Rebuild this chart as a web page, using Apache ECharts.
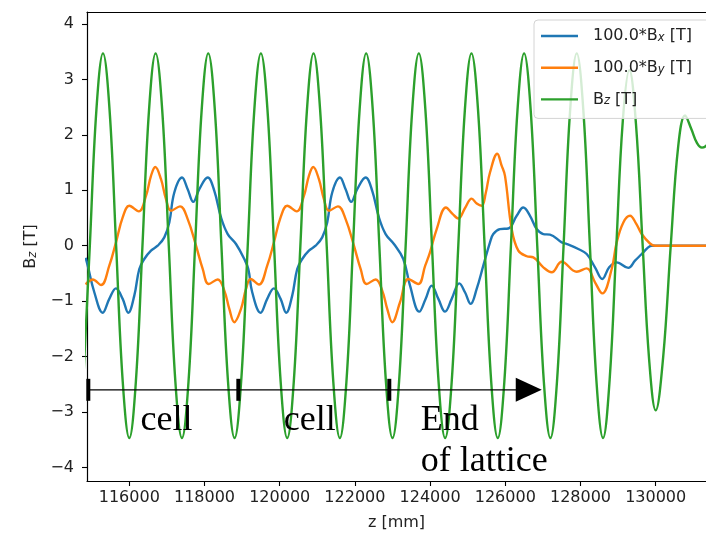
<!DOCTYPE html>
<html>
<head>
<meta charset="utf-8">
<script src="https://cdn.jsdelivr.net/npm/echarts@6/dist/echarts.min.js"></script>
<style>html,body{margin:0;padding:0;background:#fff}#c{width:706px;height:536px}</style>
</head>
<body>
<div id="c"></div>
<script>
// ---- data ----
const xTicks = [116000, 118000, 120000, 122000, 124000, 126000, 128000, 130000];
const yTicks = [-4, -3, -2, -1, 0, 1, 2, 3, 4];

const bxPoints = [[114840,-0.22],[114894,-0.36],[115069,-0.84],[115293,-1.21],[115468,-0.96],[115646,-0.77],[115824,-0.96],[115973,-1.21],[116133,-0.90],[116266,-0.42],[116399,-0.24],[116577,-0.09],[116755,0.00],[116931,0.15],[117064,0.42],[117197,0.96],[117402,1.23],[117553,1.02],[117702,0.79],[117862,1.02],[118085,1.23],[118261,0.99],[118439,0.51],[118617,0.21],[118838,0.03],[119058,-0.24],[119165,-0.42],[119269,-0.84],[119493,-1.21],[119668,-0.96],[119846,-0.77],[120024,-0.96],[120173,-1.21],[120333,-0.90],[120466,-0.42],[120599,-0.24],[120777,-0.09],[120955,0.00],[121131,0.15],[121264,0.42],[121397,0.96],[121602,1.23],[121753,1.02],[121902,0.79],[122062,1.02],[122285,1.23],[122461,0.99],[122639,0.51],[122817,0.21],[123038,0.03],[123287,-0.24],[123466,-0.72],[123713,-1.19],[123880,-0.96],[124042,-0.72],[124220,-0.96],[124397,-1.19],[124575,-0.96],[124777,-0.68],[124928,-0.84],[125080,-1.05],[125239,-0.78],[125415,-0.36],[125593,0.06],[125681,0.21],[125857,0.30],[126079,0.31],[126303,0.54],[126479,0.69],[126657,0.54],[126835,0.30],[127011,0.21],[127189,0.20],[127500,0.06],[127640,0.03],[127941,-0.06],[128165,-0.15],[128386,-0.39],[128580,-0.60],[128763,-0.39],[128963,-0.30],[129271,-0.40],[129450,-0.27],[129628,-0.15],[129800,-0.03],[129893,0.00],[130200,0.00],[131500,0.00]];

const byPoints = [[114840,-0.70],[114894,-0.66],[115027,-0.61],[115247,-0.71],[115468,-0.36],[115646,0.06],[115824,0.51],[116000,0.72],[116250,0.62],[116444,0.90],[116577,1.26],[116691,1.42],[116843,1.20],[116976,0.84],[117109,0.63],[117348,0.71],[117553,0.48],[117774,0.00],[117952,-0.42],[118112,-0.69],[118351,-0.61],[118527,-0.81],[118660,-1.14],[118793,-1.38],[118971,-1.14],[119104,-0.78],[119227,-0.60],[119447,-0.70],[119668,-0.36],[119846,0.06],[120024,0.51],[120200,0.72],[120450,0.62],[120644,0.90],[120777,1.26],[120892,1.42],[121043,1.20],[121176,0.84],[121309,0.63],[121548,0.71],[121753,0.48],[121974,0.00],[122152,-0.42],[122312,-0.69],[122551,-0.61],[122727,-0.81],[122860,-1.14],[122993,-1.38],[123200,-1.02],[123420,-0.60],[123686,-0.69],[123870,-0.36],[123997,-0.12],[124176,0.30],[124423,0.69],[124590,0.58],[124750,0.49],[124930,0.68],[125106,0.85],[125240,0.76],[125372,0.72],[125480,0.95],[125593,1.32],[125787,1.66],[125900,1.45],[125992,1.26],[126170,0.30],[126346,-0.09],[126569,-0.19],[126745,-0.21],[127011,-0.39],[127234,-0.48],[127500,-0.29],[127899,-0.47],[128165,-0.41],[128386,-0.66],[128580,-0.86],[128830,-0.42],[128963,0.06],[129140,0.42],[129317,0.54],[129480,0.40],[129628,0.21],[129849,0.04],[129982,0.00],[131500,0.00]];

const bzPoints = [[114775,-2.45],[114950,0],[115125,2.45],[115300,3.47],[115475,2.45],[115650,0],[115825,-2.45],[116000,-3.47],[116175,-2.45],[116350,0],[116525,2.45],[116700,3.47],[116875,2.45],[117050,0],[117225,-2.45],[117400,-3.47],[117575,-2.45],[117750,0],[117925,2.45],[118100,3.47],[118275,2.45],[118450,0],[118625,-2.45],[118800,-3.47],[118975,-2.45],[119150,0],[119325,2.45],[119500,3.47],[119675,2.45],[119850,0],[120025,-2.45],[120200,-3.47],[120375,-2.45],[120550,0],[120725,2.45],[120900,3.47],[121075,2.45],[121250,0],[121425,-2.45],[121600,-3.47],[121775,-2.45],[121950,0],[122125,2.45],[122300,3.47],[122475,2.45],[122650,0],[122825,-2.45],[123000,-3.47],[123175,-2.45],[123350,0],[123525,2.45],[123700,3.47],[123875,2.45],[124050,0],[124225,-2.45],[124400,-3.47],[124575,-2.45],[124750,0],[124925,2.45],[125100,3.47],[125275,2.45],[125450,0],[125625,-2.45],[125800,-3.47],[125975,-2.45],[126150,0],[126325,2.45],[126500,3.47],[126675,2.45],[126850,0],[127025,-2.45],[127200,-3.47],[127375,-2.45],[127550,0],[127725,2.45],[127900,3.47],[128075,2.45],[128250,0],[128425,-2.45],[128600,-3.47],[128775,-2.42],[128950,-0.05],[129125,2.25],[129300,3.17],[129475,2.2],[129650,0.05],[129825,-2.05],[130000,-2.97],[130200,-2.0],[130400,0.0],[130600,1.8],[130780,2.35],[130950,2.1],[131100,1.85],[131230,1.77],[131340,1.8],[131450,1.9]];

// annotation (data coordinates)
const arrowY = -2.6;
const cellMarks = [114910, 118900, 122915];
const arrowEnd = 126970;
const labels = [
  {text: 'cell', z: 116300, y: -3.16},
  {text: 'cell', z: 120110, y: -3.16},
  {text: 'End', z: 123750, y: -3.16},
  {text: 'of lattice', z: 123750, y: -3.894}
];

const seriesNames = ['Bx', 'By', 'Bz'];
const legendText = {
  Bx: '100.0*B{sub|x} [T]',
  By: '100.0*B{sub|y} [T]',
  Bz: 'B{sub|z} [T]'
};

const FONT = '"DejaVu Sans", sans-serif';
const chart = echarts.init(document.getElementById('c'), null, {renderer: 'canvas'});

function lineSeries(name, data, color) {
  return {
    name, type: 'line', data, showSymbol: false, symbol: 'none', smooth: 0.4,
    lineStyle: {color, width: 2.4}, itemStyle: {color}, clip: true, z: 2
  };
}

const option = {
  animation: false,
  backgroundColor: '#fff',
  grid: {left: 87, top: 12, right: 0, bottom: 53.5, containLabel: false},
  xAxis: [{
    type: 'value', min: 114875, max: 131338, position: 'bottom',
    name: 'z [mm]', nameLocation: 'middle', nameGap: 34,
    nameTextStyle: {fontFamily: FONT, fontSize: 16, color: '#222'},
    axisLine: {show: true, onZero: false, lineStyle: {color: '#000', width: 1.2}},
    axisTick: {show: true, length: 5, lineStyle: {color: '#000', width: 1.1}, customValues: xTicks},
    axisLabel: {customValues: xTicks, fontFamily: FONT, fontSize: 16, color: '#222', margin: 9, formatter: v => String(v)},
    splitLine: {show: false}
  }, {
    type: 'value', position: 'top', min: 114875, max: 131338,
    axisLine: {show: true, onZero: false, lineStyle: {color: '#000', width: 1.2}},
    axisTick: {show: false}, axisLabel: {show: false}, splitLine: {show: false}
  }],
  yAxis: {
    type: 'value', min: -4.245, max: 4.216,
    name: '{b|B}{s|z}{b| [T]}', nameLocation: 'middle', nameGap: 48,
    nameTextStyle: {fontFamily: FONT, fontSize: 16, color: '#222',
      rich: {b: {fontFamily: FONT, fontSize: 16, color: '#222'},
             s: {fontFamily: FONT, fontSize: 11.5, fontStyle: 'italic', color: '#222', verticalAlign: 'bottom', padding: [5, 0, 0, 0]}}},
    axisLine: {show: true, onZero: false, lineStyle: {color: '#000', width: 1.2}},
    axisTick: {show: true, length: 5, lineStyle: {color: '#000', width: 1.1}, customValues: yTicks},
    axisLabel: {customValues: yTicks, fontFamily: FONT, fontSize: 16, color: '#222', margin: 13,
      formatter: v => String(v).replace('-', '\u2212')},
    splitLine: {show: false}
  },
  legend: {
    data: seriesNames.map(n => ({name: n, icon: 'rect'})), orient: 'vertical', left: 534, top: 20,
    padding: [8, 40, 11, 7], itemWidth: 37, itemHeight: 2.4, itemGap: 15.7,
    backgroundColor: 'rgba(255,255,255,0.8)', borderColor: '#d4d4d4', borderWidth: 1, borderRadius: 4,
    formatter: n => legendText[n],
    textStyle: {fontFamily: FONT, fontSize: 16, color: '#222', padding: [0, 0, 0, 10], lineHeight: 16,
      rich: {sub: {fontFamily: FONT, fontSize: 11.5, fontStyle: 'italic', color: '#222', verticalAlign: 'bottom', padding: [5, 0, 0, 0]}}},
    selectedMode: false
  },
  series: [
    lineSeries('Bx', bxPoints, '#1f77b4'),
    lineSeries('By', byPoints, '#ff7f0e'),
    lineSeries('Bz', bzPoints, '#2ca02c'),
    {
      type: 'custom', name: 'annotation', data: [[arrowEnd, arrowY]], z: 3, silent: true,
      renderItem: function (params, api) {
        const p0 = api.coord([cellMarks[0], arrowY]);
        const tip = api.coord([arrowEnd, arrowY]);
        const children = [];
        children.push({type: 'line', shape: {x1: p0[0], y1: p0[1], x2: tip[0] - 20, y2: tip[1]},
          style: {stroke: '#000', lineWidth: 1.3}});
        cellMarks.forEach(z => {
          const c = api.coord([z, arrowY]);
          children.push({type: 'rect', shape: {x: c[0] - 2, y: c[1] - 11, width: 4, height: 22},
            style: {fill: '#000'}});
        });
        children.push({type: 'polygon', shape: {points: [[tip[0], tip[1]], [tip[0] - 26, tip[1] - 12], [tip[0] - 26, tip[1] + 12]]},
          style: {fill: '#000'}});
        labels.forEach(l => {
          const c = api.coord([l.z, l.y]);
          children.push({type: 'text', x: c[0], y: c[1],
            style: {text: l.text, fill: '#000', font: '36px "Liberation Serif", serif', align: 'left', verticalAlign: 'middle'}});
        });
        return {type: 'group', children};
      }
    }
  ]
};
chart.setOption(option);
</script>
</body>
</html>
